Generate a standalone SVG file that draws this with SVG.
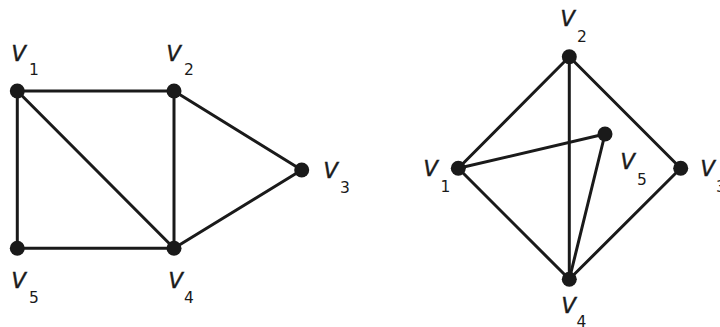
<svg xmlns="http://www.w3.org/2000/svg" width="720" height="327" viewBox="0 0 720 327">
<style>
.e{stroke:#1a1a1a;stroke-width:3;fill:none;stroke-linecap:round}
.d{fill:#1a1a1a}
.v{font-family:"DejaVu Sans",Verdana,sans-serif;font-style:italic;font-size:21px;fill:#1a1a1a;stroke:#1a1a1a;stroke-width:0.5}
.s{font-family:"DejaVu Sans",Verdana,sans-serif;font-size:15.5px;fill:#1a1a1a}
</style>
<rect width="720" height="327" fill="#fff"/>
<g id="edges">
<line class="e" x1="17.3" y1="91" x2="174" y2="91"/>
<line class="e" x1="17.3" y1="91" x2="17.3" y2="248.3"/>
<line class="e" x1="17.3" y1="91" x2="174" y2="248.3"/>
<line class="e" x1="174" y1="91" x2="174" y2="248.3"/>
<line class="e" x1="174" y1="91" x2="301.7" y2="170"/>
<line class="e" x1="301.7" y1="170" x2="174" y2="248.3"/>
<line class="e" x1="17.3" y1="248.3" x2="174" y2="248.3"/>
<line class="e" x1="458.3" y1="168.3" x2="569.3" y2="56.7"/>
<line class="e" x1="458.3" y1="168.3" x2="569.3" y2="279.3"/>
<line class="e" x1="458.3" y1="168.3" x2="605" y2="134"/>
<line class="e" x1="569.3" y1="56.7" x2="680.7" y2="168.3"/>
<line class="e" x1="569.3" y1="56.7" x2="569.3" y2="279.3"/>
<line class="e" x1="680.7" y1="168.3" x2="569.3" y2="279.3"/>
<line class="e" x1="605" y1="134" x2="569.3" y2="279.3"/>
</g>
<g id="L_v1"><circle class="d" cx="17.3" cy="91" r="7.5"/><text class="v" x="11.5" y="61">V</text><text class="s" x="29" y="75">1</text></g>
<g id="L_v2"><circle class="d" cx="174" cy="91" r="7.5"/><text class="v" x="166.5" y="61">V</text><text class="s" x="184" y="75">2</text></g>
<g id="L_v3"><circle class="d" cx="301.7" cy="170" r="7.5"/><text class="v" x="323.5" y="178">V</text><text class="s" x="340" y="193">3</text></g>
<g id="L_v4"><circle class="d" cx="174" cy="248.3" r="7.5"/><text class="v" x="168.5" y="288">V</text><text class="s" x="184" y="303">4</text></g>
<g id="L_v5"><circle class="d" cx="17.3" cy="248.3" r="7.5"/><text class="v" x="11.5" y="288">V</text><text class="s" x="29" y="302.5">5</text></g>
<g id="R_v1"><circle class="d" cx="458.3" cy="168.3" r="7.5"/><text class="v" x="423.5" y="176">V</text><text class="s" x="440.5" y="191.5">1</text></g>
<g id="R_v2"><circle class="d" cx="569.3" cy="56.7" r="7.5"/><text class="v" x="560.5" y="26">V</text><text class="s" x="577" y="41.5">2</text></g>
<g id="R_v3"><circle class="d" cx="680.7" cy="168.3" r="7.5"/><text class="v" x="700.5" y="176">V</text><text class="s" x="716" y="191.5">3</text></g>
<g id="R_v4"><circle class="d" cx="569.3" cy="279.3" r="7.5"/><text class="v" x="561.5" y="313">V</text><text class="s" x="576.5" y="326.5">4</text></g>
<g id="R_v5"><circle class="d" cx="605" cy="134" r="7.5"/><text class="v" x="620.5" y="169">V</text><text class="s" x="637" y="185">5</text></g>
</svg>
